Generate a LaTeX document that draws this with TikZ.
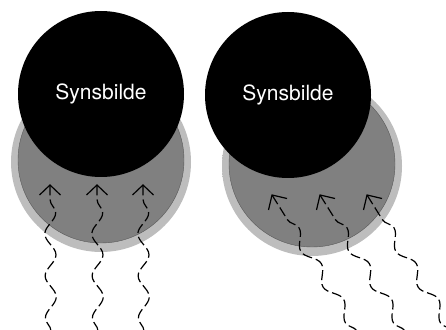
\documentclass[tikz,border=0pt]{standalone}
\usepackage{fontspec}
\setmainfont{TeX Gyre Heros}
\usetikzlibrary{decorations.pathmorphing}
\pgfdeclareradialshading{glowshade}{\pgfpoint{0bp}{0bp}}{color(0bp)=(black!26); color(45.5bp)=(black!26); color(50bp)=(white); color(100bp)=(white)}
\tikzset{
  eye/.style={circle, fill=black, minimum size=166pt, inner sep=0pt, text=white, font=\fontsize{21}{24}\selectfont},
  lens/.style={circle, fill=black!50, draw=black!65, line width=0.4pt, minimum size=166pt, inner sep=0pt},
  glow/.style={circle, shading=glowshade, minimum size=180pt, inner sep=0pt},
  wave/.style={line width=1.2pt, dash pattern=on 10pt off 4pt,
    decorate, decoration={snake, amplitude=5.5pt, segment length=42pt, post length=10pt}},
  tipline/.style={line width=1.2pt, line join=miter}
}
\begin{document}
\begin{tikzpicture}[x=1pt,y=1pt]
\useasboundingbox (0,0) rectangle (446,329);
\begin{scope}
\clip (0,0) rectangle (446,329);
% left
\node[glow] (g1) at (101,167) {};
\node[lens] (l1) at (101,169) {};
\node[eye] (e1) at (101,235) {Synsbilde};
% right
\node[glow] (g2) at (312,163) {};
\node[lens] (l2) at (312,165) {};
\node[eye] (e2) at (288,234) {Synsbilde};
% left arrows
\coordinate (a1s) at (51,-2);  \coordinate (a1t) at (50,144);
\coordinate (a2s) at (98,-2);  \coordinate (a2t) at (97,144);
\coordinate (a3s) at (144,-2); \coordinate (a3t) at (143,144);
\draw[wave] (a1s) -- (a1t);
\draw[wave] (a2s) -- (a2t);
\draw[wave] (a3s) -- (a3t);
\foreach \t in {a1t,a2t,a3t}
  \draw[tipline] ([shift={(-10.5,-10)}]\t) -- (\t) -- ([shift={(10.5,-10)}]\t);
% right arrows
\coordinate (b1s) at (357,-2); \coordinate (b1t) at (272,134);
\coordinate (b2s) at (405,-2); \coordinate (b2t) at (320,134);
\coordinate (b3s) at (452,-2); \coordinate (b3t) at (367,134);
\draw[wave] (b1s) -- (b1t);
\draw[wave] (b2s) -- (b2t);
\draw[wave] (b3s) -- (b3t);
\foreach \t in {b1t,b2t,b3t}
  \draw[tipline] ([shift={(-3.5,-15)}]\t) -- (\t) -- ([shift={(15,-3.5)}]\t);
\end{scope}
\end{tikzpicture}
\end{document}
